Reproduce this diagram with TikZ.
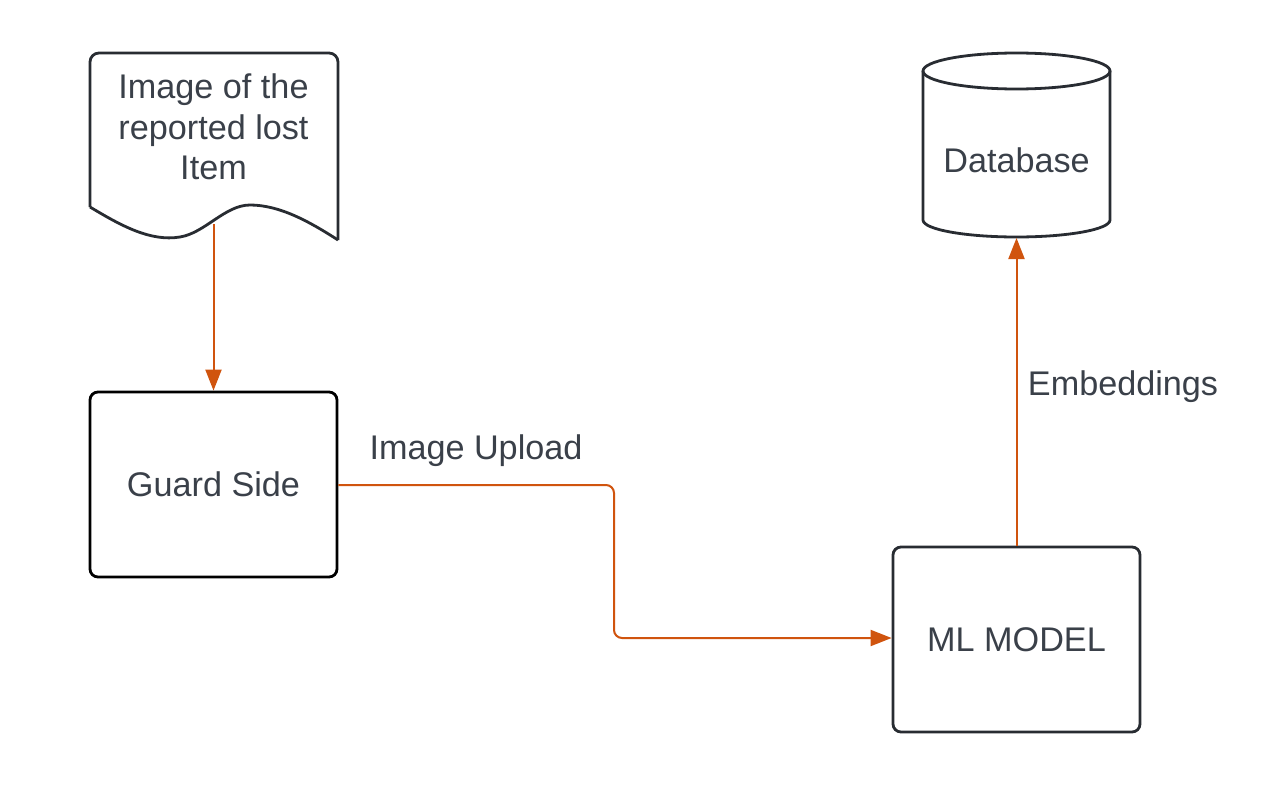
\documentclass[tikz,border=0pt]{standalone}
\usepackage{fontspec}
\setmainfont{Liberation Sans}
\usetikzlibrary{arrows.meta}
\definecolor{txt}{RGB}{58,64,73}
\definecolor{edge}{RGB}{40,44,50}
\definecolor{arr}{RGB}{208,84,14}
\tikzset{
  lbl/.style={text=txt,font=\fontsize{34.2}{40.5}\selectfont,inner sep=0pt},
  boxshape/.style={draw=edge,line width=2.8pt,rounded corners=8pt,inner sep=0pt,
     minimum width=247pt,minimum height=185pt,lbl},
  outline/.style={draw=edge,line width=2.8pt,line join=round},
  conn/.style={draw=arr,line width=2pt,-{Triangle[length=21pt,width=16pt]}},
}
\begin{document}
\begin{tikzpicture}[x=1pt,y=-1pt]
\useasboundingbox[fill=white] (0,0) rectangle (1280,797);
% document shape
\draw[outline,rounded corners=9pt] (90,207) -- (90,53) -- (338,53) -- (338,240);
\draw[outline] (338,240) .. controls (310,222) and (280,205) .. (250,205)
  .. controls (225,205) and (205,233) .. (180,237)
  .. controls (150,242) and (120,225) .. (90,207);
\node[lbl,align=center] (doc) at (213.5,127) {Image of the\\reported lost\\Item};
\coordinate (docb) at (213.5,224);
% guard side
\node[boxshape,draw=black] (guard) at (213.5,484.5) {Guard Side};
% ml model
\node[boxshape] (ml) at (1016.5,639.5) {ML MODEL};
% database
\draw[outline] (923,71) -- (923,220) arc[start angle=180,end angle=360,x radius=93.5pt,y radius=17pt] -- (1110,71);
\draw[outline] (1016.5,71) ellipse [x radius=93.5pt,y radius=18pt];
\node[lbl] (db) at (1016.5,160) {Database};
\coordinate (dbb) at (1016.5,238);
% connectors
\draw[conn] (docb) -- (guard.north);
\coordinate (bend1) at (614,485);
\coordinate (bend2) at (614,638);
\draw[conn,rounded corners=8pt] (guard.east |- bend1) -- (bend1) -- (bend2) -- (ml.west |- bend2);
\draw[conn] (ml.north) -- (dbb);
% labels
\node[lbl] (up) at (476,451) {Image Upload};
\node[lbl] (emb) at (1123,387) {Embeddings};
\end{tikzpicture}
\end{document}
